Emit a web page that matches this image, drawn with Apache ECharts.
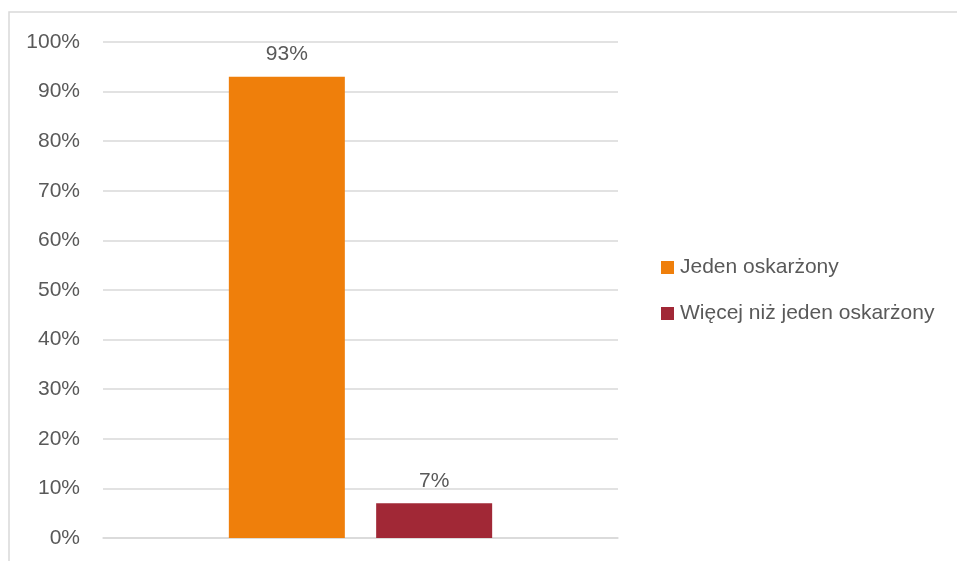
<!DOCTYPE html>
<html>
<head>
<meta charset="utf-8">
<script src="https://cdn.jsdelivr.net/npm/echarts@6/dist/echarts.min.js"></script>
<style>
  html, body { margin: 0; padding: 0; background: #ffffff; }
  #chart { width: 957px; height: 561px; }
</style>
</head>
<body>
<div id="chart"></div>
<script>
// Share of cases by number of accused
const categories = [''];
const seriesNames = ['Jeden oskarżony', 'Więcej niż jeden oskarżony'];
const jedenValues = [93];
const wiecejValues = [7];
const seriesColors = ['#ef7f0b', '#a12836'];

const FONT = 'Liberation Sans';
const TEXT = '#595959';
const SIZE = 21;

const chart = echarts.init(document.getElementById('chart'));

chart.setOption({
  backgroundColor: '#ffffff',
  animation: false,
  textStyle: { fontFamily: FONT, color: TEXT },
  graphic: [{
    type: 'rect',
    shape: { x: 9, y: 12, width: 1000, height: 600 },
    style: { fill: 'none', stroke: '#d9d9d9', lineWidth: 1.5 },
    silent: true
  }],
  grid: { left: 103, top: 42, width: 515, height: 496, containLabel: false },
  legend: {
    orient: 'vertical',
    left: 656, top: 252,
    itemWidth: 13, itemHeight: 13, itemGap: 25,
    icon: 'rect',
    textStyle: { fontFamily: FONT, fontSize: SIZE, color: TEXT, padding: [0, 0, 0, 1] },
    data: seriesNames
  },
  xAxis: {
    type: 'category',
    data: categories,
    axisLine: { lineStyle: { color: '#d9d9d9', width: 1.5 } },
    axisTick: { show: false },
    axisLabel: { show: false }
  },
  yAxis: {
    type: 'value',
    min: 0, max: 100, interval: 10,
    axisLine: { show: false },
    axisTick: { show: false },
    axisLabel: { formatter: '{value}%', fontFamily: FONT, fontSize: SIZE, color: TEXT, margin: 23 },
    splitLine: { lineStyle: { color: '#d9d9d9', width: 1.5 } }
  },
  series: [
    {
      name: seriesNames[0], type: 'bar', data: jedenValues,
      barWidth: 116, barGap: '27%',
      itemStyle: { color: seriesColors[0] },
      label: { show: true, position: 'top', distance: 12, formatter: '{c}%', fontFamily: FONT, fontSize: SIZE, color: TEXT }
    },
    {
      name: seriesNames[1], type: 'bar', data: wiecejValues,
      barWidth: 116,
      itemStyle: { color: seriesColors[1] },
      label: { show: true, position: 'top', distance: 12, formatter: '{c}%', fontFamily: FONT, fontSize: SIZE, color: TEXT }
    }
  ]
});
</script>
</body>
</html>
